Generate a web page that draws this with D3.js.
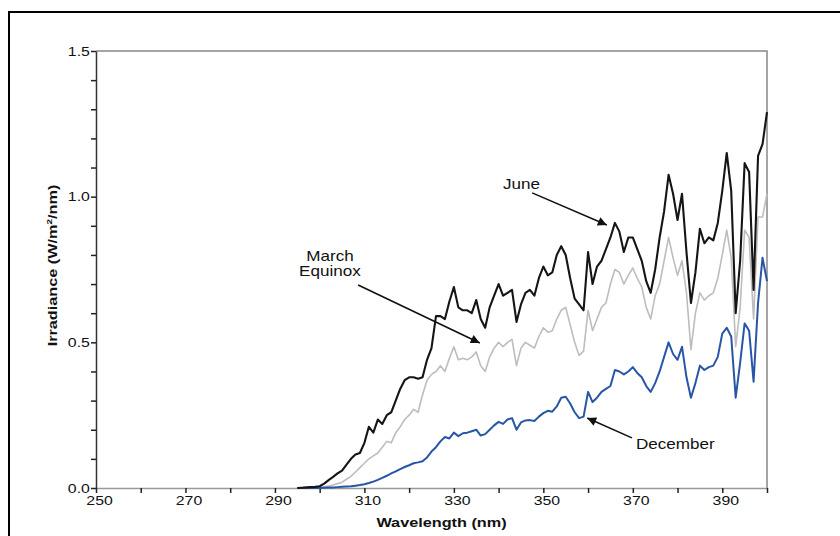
<!DOCTYPE html>
<html>
<head>
<meta charset="utf-8">
<script src="https://cdn.jsdelivr.net/npm/d3@7"></script>
<style>
  body { margin: 0; background: #fff; }
  svg { display: block; font-family: "Liberation Sans", Arial, sans-serif; }
</style>
</head>
<body>
<div id="chart"></div>
<script>
// wavelength (nm), one reading per nm
const wavelengths = [
  295, 296, 297, 298, 299, 300, 301, 302, 303, 304, 305, 306, 307, 308, 309,
  310, 311, 312, 313, 314, 315, 316, 317, 318, 319, 320, 321, 322, 323, 324,
  325, 326, 327, 328, 329, 330, 331, 332, 333, 334, 335, 336, 337, 338, 339,
  340, 341, 342, 343, 344, 345, 346, 347, 348, 349, 350, 351, 352, 353, 354,
  355, 356, 357, 358, 359, 360, 361, 362, 363, 364, 365, 366, 367, 368, 369,
  370, 371, 372, 373, 374, 375, 376, 377, 378, 379, 380, 381, 382, 383, 384,
  385, 386, 387, 388, 389, 390, 391, 392, 393, 394, 395, 396, 397, 398, 399,
  400
];

// irradiance W/m2/nm
const june = [
  0, 0.001, 0.002, 0.003, 0.004, 0.006, 0.015, 0.027, 0.038, 0.05, 0.06, 0.08, 0.10, 0.115, 0.12,
  0.155, 0.21, 0.19, 0.235, 0.22, 0.25, 0.26, 0.30, 0.34, 0.37, 0.38, 0.38, 0.375, 0.38, 0.44,
  0.48, 0.59, 0.59, 0.58, 0.64, 0.69, 0.62, 0.61, 0.61, 0.60, 0.645, 0.58, 0.55, 0.62, 0.66,
  0.70, 0.66, 0.67, 0.68, 0.57, 0.63, 0.67, 0.68, 0.66, 0.72, 0.76, 0.73, 0.74, 0.80, 0.83,
  0.80, 0.72, 0.65, 0.63, 0.61, 0.81, 0.70, 0.76, 0.78, 0.82, 0.86, 0.91, 0.88, 0.81, 0.86,
  0.86, 0.82, 0.78, 0.71, 0.67, 0.75, 0.86, 0.95, 1.075, 1.01, 0.92, 1.01, 0.81, 0.635, 0.74,
  0.89, 0.84, 0.86, 0.85, 0.91, 1.02, 1.15, 1.02, 0.60, 0.78, 1.115, 1.085, 0.68, 1.14, 1.18,
  1.29
];

const march = [
  0, 0, 0, 0, 0.001, 0.002, 0.004, 0.007, 0.01, 0.015, 0.02, 0.03, 0.04, 0.055, 0.07,
  0.085, 0.10, 0.11, 0.12, 0.14, 0.16, 0.155, 0.19, 0.21, 0.235, 0.25, 0.27, 0.26, 0.32, 0.37,
  0.39, 0.40, 0.42, 0.40, 0.445, 0.485, 0.44, 0.445, 0.44, 0.45, 0.467, 0.42, 0.40, 0.45, 0.48,
  0.50, 0.485, 0.50, 0.51, 0.42, 0.48, 0.50, 0.49, 0.48, 0.52, 0.55, 0.535, 0.54, 0.58, 0.61,
  0.62, 0.56, 0.50, 0.455, 0.47, 0.61, 0.54, 0.58, 0.62, 0.635, 0.70, 0.75, 0.74, 0.70, 0.73,
  0.755, 0.72, 0.69, 0.62, 0.58, 0.66, 0.70, 0.78, 0.86, 0.79, 0.73, 0.78, 0.67, 0.475, 0.60,
  0.67, 0.645, 0.66, 0.67, 0.72, 0.80, 0.885, 0.79, 0.485, 0.62, 0.885, 0.86, 0.58, 0.93, 0.93,
  1.01
];

const december = [
  0, 0, 0, 0, 0, 0, 0.001, 0.002, 0.002, 0.003, 0.004, 0.005, 0.006, 0.008, 0.01,
  0.013, 0.017, 0.022, 0.028, 0.035, 0.042, 0.05, 0.057, 0.065, 0.072, 0.078, 0.085, 0.088, 0.092, 0.105,
  0.125, 0.14, 0.16, 0.175, 0.17, 0.19, 0.178, 0.188, 0.19, 0.195, 0.20, 0.18, 0.185, 0.20, 0.215,
  0.227, 0.22, 0.235, 0.24, 0.20, 0.225, 0.232, 0.233, 0.23, 0.245, 0.257, 0.265, 0.262, 0.28, 0.31,
  0.313, 0.29, 0.26, 0.24, 0.245, 0.33, 0.295, 0.31, 0.33, 0.34, 0.35, 0.405, 0.40, 0.39, 0.40,
  0.415, 0.395, 0.38, 0.35, 0.33, 0.36, 0.40, 0.45, 0.50, 0.46, 0.44, 0.485, 0.38, 0.31, 0.36,
  0.42, 0.405, 0.415, 0.42, 0.45, 0.53, 0.55, 0.52, 0.31, 0.43, 0.565, 0.54, 0.365, 0.635, 0.79,
  0.71
];

// axis ticks
const xTicks = [250, 260, 270, 280, 290, 300, 310, 320, 330, 340, 350, 360, 370, 380, 390, 400];
const xLabels = [250, 270, 290, 310, 330, 350, 370, 390];
const yTicks = [0, 0.1, 0.2, 0.3, 0.4, 0.5, 0.6, 0.7, 0.8, 0.9, 1.0, 1.1, 1.2, 1.3, 1.4, 1.5];
const yLabels = [0, 0.5, 1.0, 1.5];

// annotation labels and arrows, in data units
const labels = [
  {lines: ["June"], nm: 341, v: 1.026, anchor: "start"},
  {lines: ["March", "Equinox"], nm: 302.3, v: 0.78, anchor: "middle"},
  {lines: ["December"], nm: 370.7, v: 0.134, anchor: "start"}
];
const arrows = [
  {from: [347.5, 1.013], to: [364.2, 0.903]},
  {from: [308.6, 0.697], to: [335.8, 0.498]},
  {from: [369.8, 0.172], to: [359.8, 0.24]}
];

const W = 840, H = 536;
const margin = {top: 51, right: 73, bottom: 48, left: 96};
const sx = 1.22; // the original type is a bit wide

const x = d3.scaleLinear().domain([250, 400]).range([margin.left, W - margin.right]);
const y = d3.scaleLinear().domain([0, 1.5]).range([H - margin.bottom, margin.top]);

const svg = d3.select("#chart").append("svg")
  .attr("width", W)
  .attr("height", H);

// outer frame (runs off the page right and bottom)
svg.append("path")
  .attr("d", `M9,${H + 5}V12H${W + 5}`)
  .attr("fill", "none")
  .attr("stroke", "#000")
  .attr("stroke-width", 2);

// plot frame top and right
svg.append("path")
  .attr("d", `M${x(250)},${y(1.5)}H${x(400)}V${y(0)}`)
  .attr("fill", "none")
  .attr("stroke", "#888")
  .attr("stroke-width", 1.5);

const fmtX = d => xLabels.includes(d) ? d : "";
const fmtY = d => yLabels.some(l => Math.abs(l - d) < 1e-9) ? d3.format(".1f")(d) : "";

const gx = svg.append("g")
  .attr("transform", `translate(0,${y(0)})`)
  .call(d3.axisBottom(x).tickValues(xTicks).tickFormat(fmtX).tickSize(5).tickSizeOuter(0));
gx.select(".domain").attr("stroke", "#999").attr("stroke-width", 1.5);
gx.selectAll(".tick line").attr("stroke", "#222").attr("stroke-width", 1.5);
gx.selectAll(".tick text")
  .attr("font-size", 13).attr("fill", "#111").attr("dx", 2.5)
  .attr("transform", `scale(${sx},1)`)
  .attr("font-family", "Liberation Sans, Arial, sans-serif");

const gy = svg.append("g")
  .attr("transform", `translate(${x(250)},0)`)
  .call(d3.axisLeft(y).tickValues(yTicks).tickFormat(fmtY).tickSize(5).tickSizeOuter(0).tickPadding(0));
gy.select(".domain").attr("stroke", "#333").attr("stroke-width", 1.5);
gy.selectAll(".tick line").attr("stroke", "#222").attr("stroke-width", 1.5);
gy.selectAll(".tick text")
  .attr("font-size", 13).attr("fill", "#111")
  .attr("transform", `scale(${sx},1)`)
  .attr("font-family", "Liberation Sans, Arial, sans-serif");

// axis titles
svg.append("text")
  .attr("transform", `translate(${(x(250) + x(400)) / 2 + 10},527) scale(1.25,1)`)
  .attr("text-anchor", "middle")
  .attr("font-size", 13)
  .attr("font-weight", "bold")
  .attr("fill", "#111")
  .text("Wavelength (nm)");

const yt = svg.append("text")
  .attr("transform", `translate(57,${(y(0) + y(1.5)) / 2 - 4}) rotate(-90) scale(1.25,1)`)
  .attr("text-anchor", "middle")
  .attr("font-size", 13)
  .attr("font-weight", "bold")
  .attr("fill", "#111");
yt.append("tspan").text("Irradiance (W/m");
yt.append("tspan").attr("font-size", 8).attr("dy", -5).text("2");
yt.append("tspan").attr("dy", 5).text("/nm)");

// series
const series = [
  {values: march, color: "#bdbdbd", width: 1.6},
  {values: december, color: "#2756a6", width: 2},
  {values: june, color: "#151515", width: 2.1}
];

const line = d3.line()
  .x((d, i) => x(wavelengths[i]))
  .y(d => y(d));

series.forEach(s => {
  svg.append("path")
    .datum(s.values)
    .attr("fill", "none")
    .attr("stroke", s.color)
    .attr("stroke-width", s.width)
    .attr("stroke-linejoin", "round")
    .attr("d", line);
});

// arrowhead
svg.append("defs").append("marker")
  .attr("id", "head")
  .attr("viewBox", "0 0 10 10")
  .attr("refX", 10).attr("refY", 5)
  .attr("markerWidth", 12).attr("markerHeight", 9)
  .attr("markerUnits", "userSpaceOnUse")
  .attr("orient", "auto")
  .append("path")
  .attr("d", "M0,0L10,5L0,10Z")
  .attr("fill", "#111");

svg.selectAll(".arrow")
  .data(arrows)
  .join("line")
  .attr("class", "arrow")
  .attr("x1", d => x(d.from[0])).attr("y1", d => y(d.from[1]))
  .attr("x2", d => x(d.to[0])).attr("y2", d => y(d.to[1]))
  .attr("stroke", "#111")
  .attr("stroke-width", 1.6)
  .attr("marker-end", "url(#head)");

labels.forEach(l => {
  const t = svg.append("text")
    .attr("transform", `translate(${x(l.nm)},${y(l.v)}) scale(${sx},1)`)
    .attr("text-anchor", l.anchor)
    .attr("font-size", 14)
    .attr("fill", "#111");
  l.lines.forEach((s, i) => {
    t.append("tspan")
      .attr("x", 0)
      .attr("dy", i === 0 ? 0 : 15)
      .text(s);
  });
});
</script>
</body>
</html>
